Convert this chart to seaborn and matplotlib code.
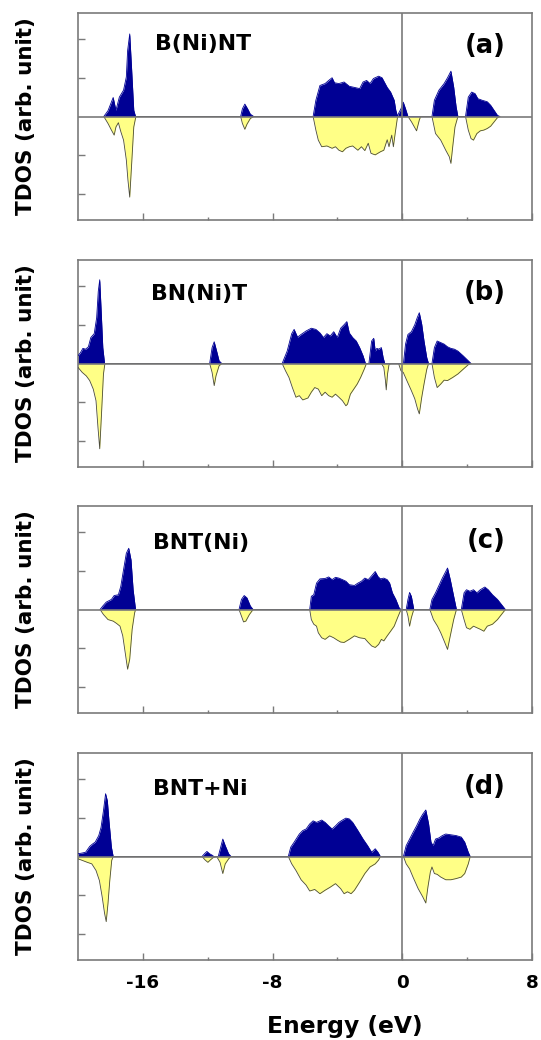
import matplotlib
matplotlib.use("Agg")
import matplotlib.pyplot as plt
from matplotlib.ticker import FixedLocator, NullFormatter
import seaborn as sns

# ---- energy axis ----
energy_range = (-20, 8)
major_ticks = [-16, -8, 0, 8]
major_tick_labels = ["-16", "-8", "0", "8"]
minor_ticks = [-12, -4, 4]
dos_ticks = [-2, -1, 1, 2]
dos_limit = 2.67

panel_names = ["B(Ni)NT", "BN(Ni)T", "BNT(Ni)", "BNT+Ni"]
panel_tags = ["(a)", "(b)", "(c)", "(d)"]

# ---- (a) B(Ni)NT : spin-up (positive) and spin-down (negative) TDOS ----
a_up_e = [-18.41, -18.15, -17.83, -17.66, -17.45, -17.19, -17.02, -16.94, -16.81, -16.70, -16.56, -16.45,
          -9.97, -9.86, -9.71, -9.54, -9.37, -9.16,
          -5.50, -5.33, -5.08, -4.76, -4.54, -4.33, -4.18, -3.91, -3.59, -3.27, -2.95, -2.63, -2.42, -2.20,
          -1.99, -1.78, -1.46, -1.25, -0.93, -0.72, -0.50, -0.40, -0.29,
          -0.23, -0.08, 0.06, 0.20, 0.35,
          1.83, 1.98, 2.26, 2.58, 2.79, 3.00, 3.17, 3.32, 3.43,
          3.90, 4.07, 4.28, 4.49, 4.66, 4.92, 5.24, 5.45, 5.66, 5.87, 6.02]
a_up_v = [0, 0.15, 0.49, 0.16, 0.50, 0.68, 1.02, 1.70, 2.13, 1.28, 0.16, 0,
          0, 0.20, 0.32, 0.20, 0.06, 0,
          0, 0.42, 0.80, 0.85, 0.93, 1.00, 0.87, 0.85, 0.89, 0.78, 0.75, 0.72, 0.89, 0.93,
          0.85, 0.98, 1.04, 1.00, 0.75, 0.63, 0.42, 0.16, 0,
          0.08, 0.20, 0.37, 0.20, 0,
          0, 0.42, 0.68, 0.85, 1.00, 1.17, 0.76, 0.25, 0,
          0, 0.50, 0.63, 0.59, 0.46, 0.42, 0.38, 0.29, 0.16, 0.03, 0]
a_dn_e = [-18.41, -18.15, -17.94, -17.77, -17.66, -17.51, -17.36, -17.19, -17.02, -16.92, -16.81, -16.70, -16.56, -16.43,
          -9.97, -9.86, -9.71, -9.58, -9.37, -9.16,
          -5.50, -5.33, -5.18, -4.97, -4.65, -4.33, -4.12, -3.91, -3.69, -3.48, -3.27, -3.06, -2.74, -2.52,
          -2.31, -2.10, -1.93, -1.67, -1.35, -1.14, -0.93, -0.82, -0.65, -0.55, -0.44, -0.29,
          0.35, 0.57, 0.88, 1.05, 1.13,
          1.83, 2.05, 2.37, 2.68, 2.90, 3.00, 3.11, 3.25, 3.43,
          3.90, 4.07, 4.24, 4.39, 4.60, 4.81, 5.03, 5.24, 5.45, 5.66, 5.87, 6.02]
a_dn_v = [0, -0.18, -0.35, -0.48, -0.27, -0.16, -0.39, -0.61, -1.12, -1.64, -2.08, -1.29, -0.27, 0,
          0, -0.18, -0.33, -0.20, -0.05, 0,
          0, -0.35, -0.61, -0.78, -0.76, -0.82, -0.78, -0.87, -0.91, -0.82, -0.78, -0.76, -0.87, -0.78,
          -0.88, -0.69, -0.95, -0.99, -0.91, -0.87, -0.60, -0.78, -0.48, -0.78, -0.44, 0,
          0, -0.14, -0.37, -0.09, 0,
          0, -0.44, -0.61, -0.87, -1.04, -1.21, -0.78, -0.27, 0,
          0, -0.35, -0.57, -0.61, -0.44, -0.37, -0.35, -0.31, -0.25, -0.14, -0.03, 0]

# ---- (b) BN(Ni)T ----
b_up_e = [-20.0, -19.85, -19.70, -19.53, -19.36, -19.21, -19.00, -18.85, -18.75, -18.66, -18.58, -18.47, -18.36,
          -11.88, -11.73, -11.60, -11.45, -11.30, -11.13,
          -7.41, -7.10, -6.82, -6.67, -6.46, -6.24, -5.93, -5.61, -5.33, -5.08, -4.86, -4.65, -4.44, -4.23,
          -4.01, -3.80, -3.59, -3.42, -3.27, -3.06, -2.84, -2.63, -2.42, -2.27,
          -2.06, -1.89, -1.76, -1.67, -1.57, -1.46, -1.29, -1.18, -1.08,
          0.07, 0.20, 0.35, 0.56, 0.77, 0.92, 1.05, 1.20, 1.34, 1.51, 1.62,
          1.83, 1.98, 2.15, 2.37, 2.58, 2.79, 3.00, 3.21, 3.43, 3.75, 4.07, 4.24]
b_up_v = [0.20, 0.28, 0.39, 0.37, 0.43, 0.67, 0.77, 1.18, 1.86, 2.16, 1.44, 0.41, 0,
          0, 0.41, 0.56, 0.32, 0.07, 0,
          0, 0.32, 0.77, 0.88, 0.68, 0.75, 0.84, 0.91, 0.88, 0.79, 0.67, 0.77, 0.71, 0.82,
          0.67, 0.91, 1.00, 1.08, 0.79, 0.67, 0.58, 0.41, 0.20, 0,
          0, 0.58, 0.65, 0.32, 0.39, 0.37, 0.41, 0.15, 0,
          0, 0.50, 0.75, 0.82, 1.00, 1.18, 1.31, 1.01, 0.58, 0.15, 0,
          0, 0.41, 0.58, 0.54, 0.50, 0.43, 0.39, 0.37, 0.32, 0.20, 0.07, 0]
b_dn_e = [-20.0, -19.74, -19.49, -19.28, -19.06, -18.89, -18.77, -18.66, -18.55, -18.43, -18.34,
          -11.88, -11.73, -11.60, -11.49, -11.30, -11.13,
          -7.41, -7.20, -6.99, -6.78, -6.56, -6.35, -6.14, -5.82, -5.61, -5.40, -5.18, -4.97, -4.76, -4.54,
          -4.33, -4.12, -3.91, -3.69, -3.48, -3.38, -3.20, -2.99, -2.78, -2.57, -2.35, -2.21,
          -1.29, -1.14, -1.04, -0.99, -0.91, -0.82, -0.72,
          -0.23, -0.08, 0.06, 0.28, 0.56, 0.77, 0.94, 1.05, 1.20, 1.34, 1.51, 1.62,
          1.83, 1.98, 2.15, 2.37, 2.58, 2.79, 3.11, 3.43, 3.75, 4.07, 4.24]
b_dn_v = [-0.10, -0.23, -0.32, -0.44, -0.66, -0.96, -1.64, -2.20, -1.30, -0.27, 0,
          0, -0.23, -0.57, -0.32, -0.06, 0,
          0, -0.19, -0.36, -0.62, -0.87, -0.83, -0.94, -0.89, -0.74, -0.62, -0.66, -0.83, -0.74, -0.83,
          -0.87, -0.79, -0.87, -0.96, -1.09, -1.05, -0.79, -0.66, -0.53, -0.36, -0.15, 0,
          0, -0.10, -0.44, -0.68, -0.27, -0.03, 0,
          0, -0.19, -0.23, -0.44, -0.70, -0.91, -1.17, -1.30, -0.87, -0.53, -0.15, 0,
          0, -0.36, -0.62, -0.53, -0.43, -0.44, -0.36, -0.27, -0.15, -0.03, 0]

# ---- (c) BNT(Ni) ----
c_up_e = [-18.64, -18.47, -18.26, -17.94, -17.77, -17.51, -17.36, -17.19, -17.02, -16.87, -16.73, -16.60, -16.45,
          -10.07, -9.92, -9.75, -9.58, -9.37, -9.20,
          -5.71, -5.61, -5.46, -5.29, -5.08, -4.76, -4.54, -4.33, -4.12, -3.91, -3.69, -3.48, -3.27, -2.95,
          -2.74, -2.52, -2.31, -2.10, -1.89, -1.67, -1.50, -1.35, -1.14, -0.93, -0.78, -0.61, -0.40, -0.19, -0.08,
          0.24, 0.35, 0.45, 0.56, 0.71,
          1.70, 1.83, 2.05, 2.26, 2.47, 2.68, 2.79, 2.96, 3.17, 3.34,
          3.64, 3.81, 3.96, 4.17, 4.39, 4.60, 4.81, 5.09, 5.30, 5.56, 5.87, 6.19, 6.36]
c_up_v = [0, 0.09, 0.19, 0.26, 0.36, 0.38, 0.60, 1.03, 1.45, 1.58, 1.28, 0.51, 0,
          0, 0.26, 0.36, 0.30, 0.09, 0,
          0, 0.34, 0.38, 0.68, 0.79, 0.80, 0.84, 0.77, 0.83, 0.81, 0.77, 0.73, 0.64, 0.62,
          0.68, 0.73, 0.81, 0.77, 0.87, 0.98, 0.85, 0.79, 0.81, 0.77, 0.68, 0.43, 0.26, 0.04, 0,
          0, 0.26, 0.44, 0.34, 0,
          0, 0.26, 0.43, 0.62, 0.81, 0.98, 1.07, 0.77, 0.34, 0,
          0, 0.43, 0.51, 0.47, 0.51, 0.43, 0.51, 0.58, 0.51, 0.38, 0.26, 0.09, 0]
c_dn_e = [-18.64, -18.43, -18.15, -17.83, -17.62, -17.41, -17.24, -17.09, -16.94, -16.81, -16.66, -16.51, -16.45,
          -10.07, -9.92, -9.79, -9.65, -9.43, -9.20,
          -5.71, -5.61, -5.46, -5.29, -5.18, -4.97, -4.76, -4.48, -4.23, -4.01, -3.80, -3.59, -3.27, -2.95,
          -2.63, -2.31, -2.10, -1.89, -1.67, -1.46, -1.29, -1.14, -0.93, -0.72, -0.50, -0.29, -0.08,
          0.24, 0.35, 0.45, 0.56, 0.71,
          1.70, 1.92, 2.17, 2.37, 2.58, 2.79, 2.96, 3.17, 3.34,
          3.64, 3.81, 3.96, 4.17, 4.39, 4.60, 4.81, 5.03, 5.24, 5.56, 5.87, 6.19, 6.36]
c_dn_v = [0, -0.13, -0.26, -0.30, -0.36, -0.43, -0.68, -1.11, -1.54, -1.28, -0.51, -0.09, 0,
          0, -0.17, -0.32, -0.30, -0.13, 0,
          0, -0.26, -0.38, -0.43, -0.60, -0.73, -0.77, -0.68, -0.73, -0.79, -0.84, -0.85, -0.77, -0.68,
          -0.73, -0.75, -0.85, -0.94, -0.98, -0.90, -0.77, -0.81, -0.68, -0.56, -0.43, -0.21, 0,
          0, -0.17, -0.43, -0.21, 0,
          0, -0.26, -0.43, -0.60, -0.81, -1.03, -0.68, -0.26, 0,
          0, -0.26, -0.47, -0.51, -0.43, -0.47, -0.51, -0.56, -0.43, -0.38, -0.26, -0.09, 0]

# ---- (d) BNT+Ni ----
d_up_e = [-20.0, -19.74, -19.53, -19.28, -19.11, -18.94, -18.72, -18.58, -18.43, -18.30, -18.19, -18.09, -17.94, -17.83,
          -12.35, -12.20, -12.05, -11.88, -11.71, -11.62,
          -11.35, -11.20, -11.07, -10.92, -10.71, -10.56,
          -7.03, -6.88, -6.67, -6.35, -6.14, -5.93, -5.71, -5.50, -5.29, -4.97, -4.76, -4.54, -4.33, -4.12,
          -3.91, -3.69, -3.48, -3.27, -3.06, -2.74, -2.42, -2.14, -1.89, -1.67, -1.50, -1.35,
          0.07, 0.24, 0.45, 0.66, 0.88, 1.09, 1.26, 1.45, 1.62, 1.77, 1.90, 2.05, 2.26, 2.47, 2.68, 3.00,
          3.32, 3.64, 3.85, 4.07, 4.19]
d_up_v = [0.07, 0.09, 0.11, 0.26, 0.32, 0.37, 0.54, 0.75, 1.18, 1.62, 1.44, 0.92, 0.24, 0,
          0, 0.07, 0.13, 0.07, 0.03, 0,
          0, 0.24, 0.45, 0.28, 0.07, 0,
          0, 0.24, 0.37, 0.58, 0.67, 0.71, 0.84, 0.92, 0.88, 0.94, 0.88, 0.79, 0.71, 0.79,
          0.88, 0.94, 0.99, 0.97, 0.88, 0.67, 0.45, 0.28, 0.11, 0.20, 0.11, 0,
          0, 0.28, 0.45, 0.62, 0.79, 0.97, 1.09, 1.20, 0.85, 0.37, 0.28, 0.45, 0.48, 0.54, 0.58, 0.56,
          0.54, 0.50, 0.37, 0.11, 0]
d_dn_e = [-20.0, -19.74, -19.43, -19.15, -18.89, -18.68, -18.51, -18.36, -18.26, -18.15, -18.04, -17.92, -17.83,
          -12.35, -12.16, -11.99, -11.84, -11.67, -11.45,
          -11.24, -11.07, -10.92, -10.71, -10.56,
          -7.03, -6.82, -6.56, -6.24, -5.93, -5.71, -5.40, -5.08, -4.76, -4.44, -4.12, -3.80, -3.59, -3.38,
          -3.16, -2.95, -2.63, -2.31, -1.99, -1.67, -1.46, -1.35,
          0.07, 0.24, 0.45, 0.66, 0.98, 1.26, 1.45, 1.58, 1.73, 1.83, 1.98, 2.15, 2.37, 2.68, 3.00, 3.32,
          3.64, 3.85, 4.07, 4.19]
d_dn_v = [-0.06, -0.10, -0.15, -0.19, -0.36, -0.62, -1.04, -1.47, -1.68, -1.21, -0.62, -0.10, 0,
          0, -0.09, -0.15, -0.09, -0.03, 0,
          -0.15, -0.44, -0.19, -0.06, 0,
          0, -0.19, -0.36, -0.60, -0.74, -0.89, -0.85, -0.96, -0.87, -0.79, -0.70, -0.83, -0.96, -0.91,
          -0.96, -0.87, -0.66, -0.44, -0.27, -0.19, -0.09, 0,
          0, -0.19, -0.32, -0.53, -0.83, -1.04, -1.20, -0.79, -0.40, -0.27, -0.44, -0.46, -0.53, -0.60, -0.60, -0.57,
          -0.53, -0.44, -0.19, 0]

panels = [
    (a_up_e, a_up_v, a_dn_e, a_dn_v),
    (b_up_e, b_up_v, b_dn_e, b_dn_v),
    (c_up_e, c_up_v, c_dn_e, c_dn_v),
    (d_up_e, d_up_v, d_dn_e, d_dn_v),
]

# ---- styling ----
sns.set_style("white")
plt.rcParams["font.family"] = ["DejaVu Sans"]
plt.rcParams["axes.unicode_minus"] = False

UP_COLOR = "#000094"
DN_COLOR = "#ffff86"
FRAME = "#7a7a7a"

fig = plt.figure(figsize=(5.41, 10.40), dpi=100)

W, H = 541.0, 1040.0
ax_left, ax_width = 78 / W, 454 / W
panel_px = [(13, 220), (260, 467), (506, 713), (753, 960)]
name_pos = [(0.170, 0.848), (0.161, 0.836), (0.165, 0.819), (0.165, 0.827)]
tag_pos = [(0.943, 0.840), (0.943, 0.840), (0.943, 0.832), (0.943, 0.835)]

for i, (up_e, up_v, dn_e, dn_v) in enumerate(panels):
    top, bot = panel_px[i]
    ax = fig.add_axes([ax_left, 1 - bot / H, ax_width, (bot - top) / H])

    ax.fill_between(up_e, 0, up_v, color=UP_COLOR, linewidth=0, zorder=2)
    ax.fill_between(dn_e, 0, dn_v, color=DN_COLOR, linewidth=0, zorder=2)
    sns.lineplot(x=up_e, y=up_v, ax=ax, color=UP_COLOR, lw=0.6, sort=False,
                 estimator=None, zorder=3)
    sns.lineplot(x=dn_e, y=dn_v, ax=ax, color="#4a4a3a", lw=0.6, sort=False,
                 estimator=None, zorder=3)

    ax.axhline(0, color=FRAME, lw=1.2, zorder=4)
    ax.axvline(0, color=FRAME, lw=1.2, zorder=4)

    ax.set_xlim(*energy_range)
    ax.set_ylim(-dos_limit, dos_limit)

    for sp in ax.spines.values():
        sp.set_color(FRAME)
        sp.set_linewidth(1.2)
        sp.set_visible(True)

    ax.xaxis.set_major_locator(FixedLocator(major_ticks))
    ax.xaxis.set_minor_locator(FixedLocator(minor_ticks))
    ax.yaxis.set_major_locator(FixedLocator(dos_ticks))
    ax.tick_params(axis="both", which="both", direction="in", colors=FRAME,
                   top=False, right=False, left=True, bottom=True)
    ax.tick_params(axis="both", which="major", length=5, width=1.0)
    ax.tick_params(axis="x", which="minor", length=2.5, width=1.0)
    ax.yaxis.set_major_formatter(NullFormatter())
    if i == 3:
        ax.set_xticklabels(major_tick_labels)
        ax.tick_params(axis="x", which="major", labelsize=13.2, labelcolor="black", pad=10)
        for lbl in ax.get_xticklabels():
            lbl.set_fontweight("bold")
    else:
        ax.xaxis.set_major_formatter(NullFormatter())

    ax.set_xlabel("")
    ax.set_ylabel("")
    ax.text(-0.1145, 0.5, "TDOS (arb. unit)", transform=ax.transAxes, rotation=90,
            ha="center", va="center", fontsize=15.5, fontweight="bold", color="black")
    nx, ny = name_pos[i]
    ax.text(nx, ny, panel_names[i], transform=ax.transAxes, ha="left", va="center",
            fontsize=15.8, fontweight="bold", color="black")
    tx, ty = tag_pos[i]
    ax.text(tx, ty, panel_tags[i], transform=ax.transAxes, ha="right", va="center",
            fontsize=18.6, fontweight="bold", color="black")

fig.text(344.5 / W, 1 - 1033 / H, "Energy (eV)", ha="center", va="baseline",
         fontsize=16.8, fontweight="bold", color="black")

fig.savefig("out.png", dpi=100, facecolor="white")
